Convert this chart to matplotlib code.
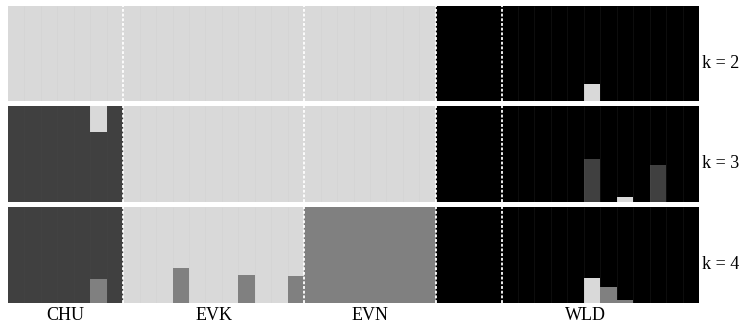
import matplotlib
matplotlib.use('Agg')
from matplotlib import pyplot as plt
import numpy as np

# cluster colours
c_light = '#d9d9d9'
c_dark = '#404040'
c_mid = '#808080'
c_black = '#000000'

# populations (number of individuals per block, labels)
block_sizes = [7, 11, 8, 4, 12]
pop_labels = ['CHU', 'EVK', 'EVN', 'WLD']
pop_label_pos = [3.5, 12.5, 22.0, 35.1]

# k = 2 : light, black
k2_light = [1, 1, 1, 1, 1, 1, 1,
            1, 1, 1, 1, 1, 1, 1, 1, 1, 1, 1,
            1, 1, 1, 1, 1, 1, 1, 1,
            0, 0, 0, 0,
            0, 0, 0, 0, 0, 0.18, 0, 0, 0, 0, 0, 0]
k2_black = [0, 0, 0, 0, 0, 0, 0,
            0, 0, 0, 0, 0, 0, 0, 0, 0, 0, 0,
            0, 0, 0, 0, 0, 0, 0, 0,
            1, 1, 1, 1,
            1, 1, 1, 1, 1, 0.82, 1, 1, 1, 1, 1, 1]

# k = 3 : dark, light, black
k3_dark = [1, 1, 1, 1, 1, 0.73, 1,
           0, 0, 0, 0, 0, 0, 0, 0, 0, 0, 0,
           0, 0, 0, 0, 0, 0, 0, 0,
           0, 0, 0, 0,
           0, 0, 0, 0, 0, 0.45, 0, 0, 0, 0.39, 0, 0]
k3_light = [0, 0, 0, 0, 0, 0.27, 0,
            1, 1, 1, 1, 1, 1, 1, 1, 1, 1, 1,
            1, 1, 1, 1, 1, 1, 1, 1,
            0, 0, 0, 0,
            0, 0, 0, 0, 0, 0, 0, 0.05, 0, 0, 0, 0]
k3_black = [0, 0, 0, 0, 0, 0, 0,
            0, 0, 0, 0, 0, 0, 0, 0, 0, 0, 0,
            0, 0, 0, 0, 0, 0, 0, 0,
            1, 1, 1, 1,
            1, 1, 1, 1, 1, 0.55, 1, 0.95, 1, 0.61, 1, 1]

# k = 4 : mid, light, dark, black
k4_mid = [0, 0, 0, 0, 0, 0.25, 0,
          0, 0, 0, 0.36, 0, 0, 0, 0.29, 0, 0, 0.28,
          1, 1, 1, 1, 1, 1, 1, 1,
          0, 0, 0, 0,
          0, 0, 0, 0, 0, 0, 0.17, 0.03, 0, 0, 0, 0]
k4_light = [0, 0, 0, 0, 0, 0, 0,
            1, 1, 1, 0.64, 1, 1, 1, 0.71, 1, 1, 0.72,
            0, 0, 0, 0, 0, 0, 0, 0,
            0, 0, 0, 0,
            0, 0, 0, 0, 0, 0.26, 0, 0, 0, 0, 0, 0]
k4_dark = [1, 1, 1, 1, 1, 0.75, 1,
           0, 0, 0, 0, 0, 0, 0, 0, 0, 0, 0,
           0, 0, 0, 0, 0, 0, 0, 0,
           0, 0, 0, 0,
           0, 0, 0, 0, 0, 0, 0, 0, 0, 0, 0, 0]
k4_black = [0, 0, 0, 0, 0, 0, 0,
            0, 0, 0, 0, 0, 0, 0, 0, 0, 0, 0,
            0, 0, 0, 0, 0, 0, 0, 0,
            1, 1, 1, 1,
            1, 1, 1, 1, 1, 0.74, 0.83, 0.97, 1, 1, 1, 1]

rows = [
    ('k = 2', [(k2_light, c_light), (k2_black, c_black)]),
    ('k = 3', [(k3_dark, c_dark), (k3_light, c_light), (k3_black, c_black)]),
    ('k = 4', [(k4_mid, c_mid), (k4_light, c_light), (k4_dark, c_dark), (k4_black, c_black)]),
]

W, H = 739, 325
fig = plt.figure(figsize=(W / 100, H / 100), dpi=100)
plt.rcParams['font.family'] = ['Liberation Serif', 'DejaVu Serif']

left, right = 8, 699
row_px = [(6, 101), (106, 202), (207, 303)]

n_ind = sum(block_sizes)
x = np.arange(n_ind)
borders = np.cumsum(block_sizes)[:-1]

for i, (klabel, comps) in enumerate(rows):
    top, bot = row_px[i]
    ax = fig.add_axes([left / W, (H - bot) / H, (right - left) / W, (bot - top) / H])
    bottom = np.zeros(n_ind)
    for vals, col in comps:
        vals = np.array(vals, dtype=float)
        ax.bar(x, vals, bottom=bottom, width=1.0, align='edge', color=col, linewidth=0)
        bottom += vals
    # faint lines between individuals (only visible in the WLD block)
    ax.vlines(np.arange(31, n_ind), 0, 1, color='#808080', alpha=0.12, lw=0.6)
    ax.vlines(np.arange(1, 26), 0, 1, color='#808080', alpha=0.05, lw=0.6)
    # population separators
    for b in borders:
        ax.axvline(b, color='white', lw=1.3, linestyle=(0, (1.6, 1.0)))
    ax.set_xlim(0, n_ind)
    ax.set_ylim(0, 1)
    for s in ax.spines.values():
        s.set_visible(False)
    ax.set_yticks([])
    ax.text(1.005, 0.40, klabel, transform=ax.transAxes, ha='left', va='center', fontsize=13)
    if i == 2:
        ax.set_xticks(pop_label_pos)
        ax.set_xticklabels(pop_labels, fontsize=13)
        ax.tick_params(axis='x', length=0, pad=3)
    else:
        ax.set_xticks([])

fig.savefig('out.png', dpi=100)
plt.close(fig)
